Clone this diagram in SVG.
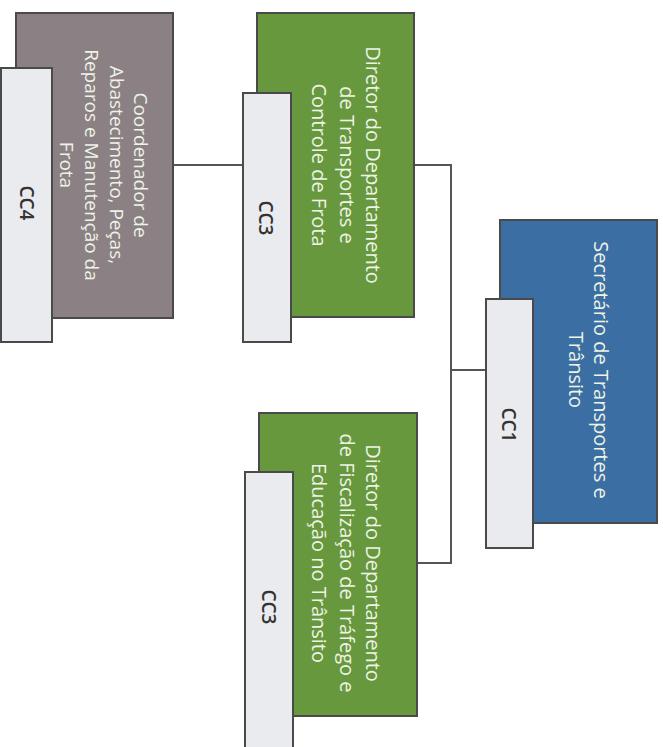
<svg xmlns="http://www.w3.org/2000/svg" width="663" height="747" viewBox="0 0 663 747">
<style>
.box{stroke:#4a4a4a;stroke-width:2}
.gray{fill:#8b8185}
.green{fill:#67983d}
.blue{fill:#3b6ea3}
.lab{fill:#e9ebee;stroke:#4a4a4a;stroke-width:2}
.t{font-family:"Open Sans","Noto Sans",sans-serif;fill:#eef3e6;text-anchor:middle}
.lt{font-family:"Open Sans","Noto Sans",sans-serif;fill:#333;font-weight:600;font-size:19px;text-anchor:middle}
.c{fill:none;stroke:#555;stroke-width:2}
</style>
<rect width="663" height="747" fill="#fff"/>
<g id="connectors">
<polyline class="c" points="173,165 243,165"/>
<polyline class="c" points="414,165 451,165 451,563 417,563"/>
<polyline class="c" points="451,370 486,370"/>
</g>
<g id="n_cc4">
<rect class="box gray" x="16" y="13" width="157" height="305"/>
<rect class="lab" x="1" y="68" width="51" height="274"/>
<g class="t" font-size="19">
<text transform="translate(134,165) rotate(90)">Coordenador de</text>
<text transform="translate(110,165) rotate(90)">Abastecimento, Peças,</text>
<text transform="translate(85,165) rotate(90)">Reparos e Manutenção da</text>
<text transform="translate(60,165) rotate(90)">Frota</text>
</g>
<text class="lt" transform="translate(20,203) rotate(90)">CC4</text>
</g>
<g id="n_dir1">
<rect class="box green" x="257" y="13" width="157" height="304"/>
<rect class="lab" x="243" y="93" width="48" height="249"/>
<g class="t" font-size="20">
<text transform="translate(366,165) rotate(90)">Diretor do Departamento</text>
<text transform="translate(340,165) rotate(90)">de Transportes e</text>
<text transform="translate(312,165) rotate(90)">Controle de Frota</text>
</g>
<text class="lt" transform="translate(259,218) rotate(90)">CC3</text>
</g>
<g id="n_sec">
<rect class="box blue" x="500" y="220" width="157" height="303"/>
<rect class="lab" x="486" y="299" width="47" height="249"/>
<g class="t" font-size="20">
<text transform="translate(594,370) rotate(90)">Secretário de Transportes e</text>
<text transform="translate(569,370) rotate(90)">Trânsito</text>
</g>
<text class="lt" transform="translate(502,425) rotate(90)">CC1</text>
</g>
<g id="n_dir2">
<rect class="box green" x="259" y="413" width="158" height="303"/>
<rect class="lab" x="245" y="472" width="48" height="280"/>
<g class="t" font-size="20">
<text transform="translate(366,563) rotate(90)">Diretor do Departamento</text>
<text transform="translate(340,563) rotate(90)">de Fiscalização de Tráfego e</text>
<text transform="translate(312,563) rotate(90)">Educação no Trânsito</text>
</g>
<text class="lt" transform="translate(262,607) rotate(90)">CC3</text>
</g>
</svg>
